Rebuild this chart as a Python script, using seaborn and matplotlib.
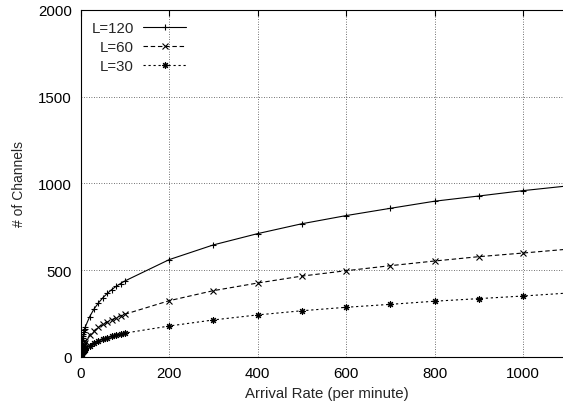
import matplotlib
matplotlib.use("Agg")
import matplotlib.pyplot as plt
import seaborn as sns
import pandas as pd

arrival = [0, 1, 2, 3, 4, 5, 6, 7, 8, 9, 10, 20, 30, 40, 50, 60, 70, 80, 90, 100,
           200, 300, 400, 500, 600, 700, 800, 900, 1000, 1100]
ch_120 = [0, 40, 70, 90, 105, 120, 132, 142, 152, 161, 170, 230, 275, 310, 340, 365, 387, 406, 422, 437,
          560, 645, 710, 767, 814, 856, 897, 927, 958, 985]
ch_60 = [0, 18, 32, 42, 50, 57, 63, 69, 75, 80, 88, 125, 150, 170, 186, 200, 213, 225, 236, 245,
         323, 381, 425, 465, 496, 525, 552, 577, 598, 620]
ch_30 = [0, 9, 15, 20, 25, 28, 31, 34, 37, 40, 44, 64, 79, 91, 101, 110, 117, 124, 130, 136,
         177, 212, 241, 265, 285, 302, 320, 335, 350, 367]
labels = ["L=120", "L=60", "L=30"]

sns.set_style("white")
plt.rcParams['font.family'] = ['Liberation Sans', 'DejaVu Sans']

df = pd.concat([
    pd.DataFrame({"x": arrival, "y": ch_120, "L": labels[0]}),
    pd.DataFrame({"x": arrival, "y": ch_60, "L": labels[1]}),
    pd.DataFrame({"x": arrival, "y": ch_30, "L": labels[2]}),
])

fig = plt.figure(figsize=(5.63, 4.10), dpi=100)
ax = fig.add_axes([0.1434, 0.1276, 0.8566, 0.8456])

styles = {labels[0]: (None, None), labels[1]: (4, 2.5), labels[2]: (2, 2.5)}
markers = {labels[0]: "+", labels[1]: "x", labels[2]: (8, 2, 0)}
for lab in labels:
    sub = df[df["L"] == lab]
    dash = styles[lab]
    sns.lineplot(data=sub, x="x", y="y", ax=ax, color="black", linewidth=0.8,
                 marker=markers[lab], markersize=4.8, markeredgewidth=0.8,
                 markeredgecolor="black", label=lab, clip_on=True, sort=False)
    line = ax.lines[-1]
    if dash[0] is not None:
        line.set_dashes(dash)

FS = 10.8
ax.set_xlim(0, 1090)
ax.set_ylim(0, 2000)
ax.set_xticks([0, 200, 400, 600, 800, 1000])
ax.set_yticks([0, 500, 1000, 1500, 2000])
ax.grid(True, linestyle=(0, (1, 2)), color="#444444", linewidth=0.6)
ax.tick_params(direction="in", length=4, top=True, right=False, labelsize=FS,
               colors="black")
ax.tick_params(axis="y", pad=6.5)
ax.tick_params(axis="x", pad=7)
for s in ["top", "left", "bottom"]:
    ax.spines[s].set_color("black")
    ax.spines[s].set_linewidth(0.8)
ax.spines["right"].set_visible(False)
ax.set_xlabel("Arrival Rate (per minute)", fontsize=FS)
ax.set_ylabel("# of Channels", fontsize=10)
ax.xaxis.set_label_coords(0.51, -0.085)
ax.yaxis.set_label_coords(-0.113, 0.5)

leg = ax.legend(loc="upper left", frameon=False, markerfirst=False, fontsize=FS,
                handlelength=2.9, handletextpad=0.6, borderaxespad=0.0,
                labelspacing=0.32, bbox_to_anchor=(0.01, 0.985))
for t in leg.get_texts():
    t.set_ha("right")

fig.savefig("out.png", dpi=100)
